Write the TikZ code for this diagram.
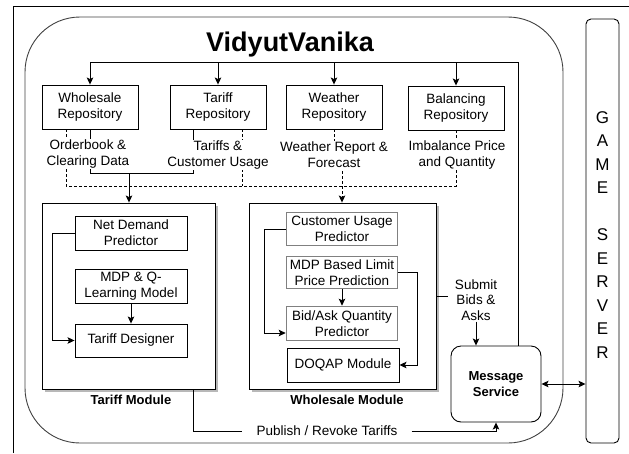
\documentclass[tikz,border=0pt]{standalone}
\usepackage{fontspec}
\setmainfont{Liberation Sans}
\usetikzlibrary{arrows.meta,shadows,calc}
\begin{document}
\begin{tikzpicture}[x=1pt,y=-1pt,
  lbl/.style={font=\fontsize{13.5}{16}\selectfont, align=center},
  box/.style={draw=black, line width=0.9pt, lbl, inner sep=0pt},
  gbox/.style={draw=black!50, line width=1.6pt, lbl, inner sep=0pt},
  module/.style={draw=black, line width=0.9pt, fill=white, drop shadow={shadow xshift=3pt, shadow yshift=-3pt, fill=black!28, opacity=1}},
  conn/.style={line width=0.9pt},
  arr/.style={conn, -{Stealth[length=7pt,width=6.5pt,inset=1.5pt]}},
  dsh/.style={dash pattern=on 3pt off 2pt},
  wlbl/.style={lbl, fill=white, inner sep=1pt},
  boldlbl/.style={font=\fontsize{13}{15.5}\selectfont\bfseries, align=center}
]
\useasboundingbox (0,0) rectangle (629,453);
% outer frame
\draw[line width=1pt] (13,453) -- (13,6) -- (629,6);
% big rounded container
\node[draw=black!75, line width=0.9pt, rounded corners=55pt, minimum width=538pt, minimum height=426pt, inner sep=0pt] (vv) at (294,230) {};
\node[font=\fontsize{27}{31}\selectfont\bfseries] (title) at (290,45) {VidyutVanika};

% repositories
\node[box, minimum width=96pt, minimum height=44pt] (wr) at (90,107) {Wholesale\\Repository};
\node[box, minimum width=96pt, minimum height=44pt] (tr) at (218,107) {Tariff\\Repository};
\node[box, minimum width=96pt, minimum height=44pt] (wer) at (334,107) {Weather\\Repository};
\node[box, minimum width=96pt, minimum height=44pt] (br) at (456,108) {Balancing\\Repository};

% modules
\node[module, minimum width=173pt, minimum height=186pt] (tm) at (128.5,296) {};
\node[boldlbl] (tml) at (131,400) {Tariff Module};
\node[module, minimum width=187pt, minimum height=186pt] (wm) at (342.5,296) {};
\node[boldlbl] (wml) at (347,400) {Wholesale Module};

% tariff module inner
\node[box, minimum width=112pt, minimum height=34pt] (nd) at (131,233) {Net Demand\\Predictor};
\node[box, minimum width=112pt, minimum height=34pt] (mq) at (131,286) {MDP \& Q-\\Learning Model};
\node[box, minimum width=112pt, minimum height=33pt] (td) at (131,340.5) {Tariff Designer};

% wholesale module inner
\node[gbox, minimum width=111pt, minimum height=33pt] (cu) at (342,229) {Customer Usage\\Predictor};
\node[gbox, minimum width=111pt, minimum height=32pt] (mb) at (342,272.5) {MDP Based Limit\\Price Prediction};
\node[gbox, minimum width=111pt, minimum height=34pt] (ba) at (342,323.5) {Bid/Ask Quantity\\Predictor};
\node[box, minimum width=112pt, minimum height=34pt] (dq) at (343,365) {DOQAP Module};

% message service and game server
\node[draw, line width=0.9pt, rounded corners=10pt, minimum width=90pt, minimum height=76pt, boldlbl] (msg) at (496,384) {Message\\Service};
\node[draw, line width=0.9pt, rounded corners=5pt, minimum width=33pt, minimum height=424pt] (gs) at (602.5,231) {};

% top bus
\coordinate (bus) at (518,62);
\draw[conn] (wr.north |- bus) -- (bus) -- (msg.north -| bus);
\foreach \n in {wr,tr,wer,br} \draw[arr] (\n.north |- bus) -- (\n.north);

% solid feed to tariff module
\coordinate (j1) at (90,173);
\coordinate (j2) at (193,173);
\coordinate (j3) at (129,173);
\draw[conn] (wr.south -| j1) -- (j1) -- (j2) -- (tr.south -| j2);
\draw[arr] (j3) -- (tm.north -| j3);

% dashed feed to wholesale module
\coordinate (d1) at (66,186);
\coordinate (d2) at (242,186);
\coordinate (d4) at (456,186);
\coordinate (c5) at (342,160);
\draw[conn, dsh] (wr.south -| d1) -- (d1) -- (d4) -- (br.south);
\draw[conn, dsh] (tr.south -| d2) -- (d2);
\draw[arr, dsh] (wer.south) -- (wer.south |- c5) -- (c5) -- (wm.north -| c5);

% labels under repositories
\node[wlbl] (l1) at (88,154) {Orderbook \&\\Clearing Data};
\node[wlbl] (l2) at (218,155) {Tariffs \&\\Customer Usage};
\node[wlbl] (l3) at (334,155) {Weather Report \&\\Forecast};
\node[wlbl] (l4) at (457,155) {Imbalance Price\\and Quantity};

% tariff module connectors
\draw[arr] (mq.south) -- (td.north);
\draw[arr] (nd.west) -- ++(-22,0) |- (td.west);

% wholesale module connectors
\draw[arr] (mb.south) -- (ba.north);
\draw[arr] (cu.west) -- ++(-21,0) |- ([yshift=-9.5pt]ba.west);
\draw[arr] (mb.east) -- ++(19,0) |- (dq.east);

% submit bids
\node[lbl, font=\fontsize{13.5}{15.5}\selectfont, inner xsep=7pt, inner ysep=1pt] (sub) at (476,300) {Submit\\Bids \&\\Asks};
\draw[conn] (wm.east) -- (wm.east -| sub.west);
\draw[arr] (sub.south) -- (msg.north -| sub.south);

% publish / revoke
\node[lbl, inner xsep=14pt, inner ysep=1pt] (pub) at (327,431) {Publish / Revoke Tariffs};
\draw[conn] (tm.south -| j2) |- (pub.west);
\draw[arr] (pub.east) -| (msg.south);

% message service <-> game server
\draw[conn, {Stealth[length=7pt,width=6.5pt,inset=1.5pt]}-{Stealth[length=7pt,width=6.5pt,inset=1.5pt]}] (msg.east) -- (gs.west |- msg.east);

% game server text
\node[font=\fontsize{17}{23.5}\selectfont, align=center, inner sep=0pt] (gst) at (602.5,235) {G\\A\\M\\E\\[23.5pt]S\\E\\R\\V\\E\\R};
\end{tikzpicture}
\end{document}
